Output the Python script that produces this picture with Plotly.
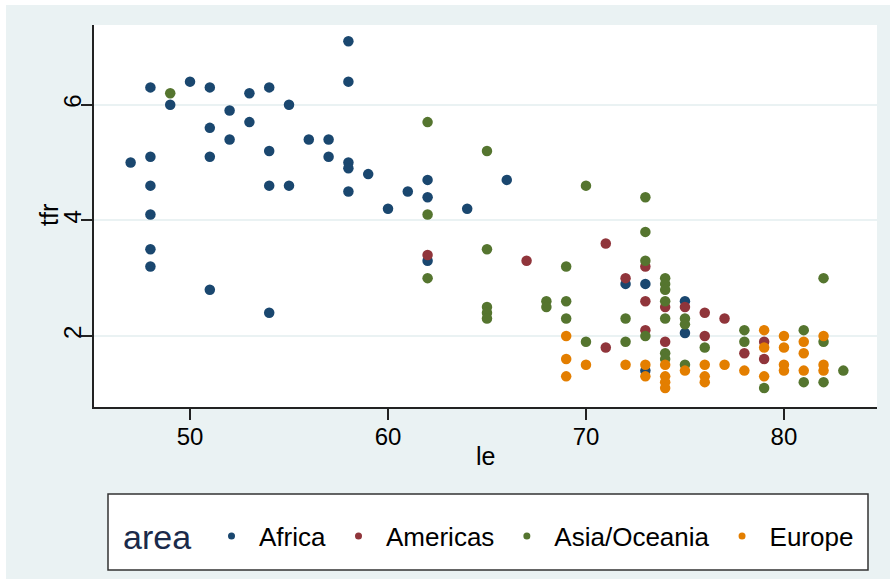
import plotly.graph_objects as go

# life expectancy (le) and total fertility rate (tfr) by area
africa_le = [47, 48, 48, 48, 48, 48, 48, 49, 50, 51, 51, 51, 51, 52, 52, 53, 53, 54, 54, 54, 54,
             55, 55, 56, 57, 57, 58, 58, 58, 58, 58, 59, 60, 61, 62, 62, 62, 64, 66, 72, 73, 73, 75, 75]
africa_tfr = [5.0, 6.3, 5.1, 4.6, 4.1, 3.5, 3.2, 6.0, 6.4, 6.3, 5.6, 5.1, 2.8, 5.9, 5.4, 6.2, 5.7, 6.3, 5.2, 4.6, 2.4,
              6.0, 4.6, 5.4, 5.4, 5.1, 7.1, 6.4, 5.0, 4.9, 4.5, 4.8, 4.2, 4.5, 4.7, 4.4, 3.3, 4.2, 4.7, 2.9, 2.9, 1.4, 2.6, 2.05]

americas_le = [62, 67, 71, 71, 72, 73, 73, 73, 74, 74, 75, 76, 76, 77, 78, 79, 79]
americas_tfr = [3.4, 3.3, 3.6, 1.8, 3.0, 3.2, 2.6, 2.1, 2.5, 1.9, 2.5, 2.4, 2.0, 2.3, 1.7, 1.9, 1.6]

asia_le = [49, 62, 62, 62, 65, 65, 65, 65, 65, 68, 68, 69, 69, 69, 70, 70, 72, 72, 73, 73, 73, 73,
           74, 74, 74, 74, 74, 74, 74, 75, 75, 75, 76, 78, 78, 79, 81, 81, 82, 82, 82, 83]
asia_tfr = [6.2, 5.7, 4.1, 3.0, 5.2, 3.5, 2.5, 2.4, 2.3, 2.6, 2.5, 3.2, 2.6, 2.3, 4.6, 1.9, 2.3, 1.9, 4.4, 3.8, 3.3, 2.0,
            3.0, 2.9, 2.8, 2.6, 2.3, 1.7, 1.6, 2.3, 2.2, 1.5, 1.8, 2.1, 1.9, 1.1, 2.1, 1.2, 3.0, 1.9, 1.2, 1.4]

europe_le = [69, 69, 69, 70, 72, 73, 73, 74, 74, 74, 74, 75, 76, 76, 76, 77, 78, 79, 79, 79,
             80, 80, 80, 80, 81, 81, 81, 82, 82, 82]
europe_tfr = [2.0, 1.6, 1.3, 1.5, 1.5, 1.5, 1.3, 1.5, 1.3, 1.2, 1.1, 1.4, 1.5, 1.3, 1.2, 1.5, 1.4, 2.1, 1.8, 1.3,
              2.0, 1.8, 1.5, 1.4, 1.9, 1.7, 1.4, 2.0, 1.5, 1.4]

areas = ["Africa", "Americas", "Asia/Oceania", "Europe"]
colors = ["#1a476f", "#90353b", "#55752f", "#e37e00"]
xs = [africa_le, americas_le, asia_le, europe_le]
ys = [africa_tfr, americas_tfr, asia_tfr, europe_tfr]

FONT = "Liberation Sans, Arial, sans-serif"
BG = "#eaf2f3"

fig = go.Figure()

for name, col, x, y in zip(areas, colors, xs, ys):
    fig.add_trace(go.Scatter(x=x, y=y, mode="markers", name=name, showlegend=False,
                             marker=dict(color=col, size=10.5, line=dict(width=0))))

# small legend dots
for name, col in zip(areas, colors):
    fig.add_trace(go.Scatter(x=[None], y=[None], mode="markers", name=name,
                             marker=dict(color=col, size=7)))

# plot area in pixels: left 94, right 877, top 25, bottom 407
W, H = 896, 584
L, R, T, B = 94, 877, 25, 407
pw, ph = R - L, B - T


def px(x):
    return (x - L) / pw


def py(y):
    return (B - y) / ph


fig.update_layout(
    width=W, height=H,
    margin=dict(l=L, r=W - R, t=T, b=H - B, autoexpand=False),
    paper_bgcolor="white",
    plot_bgcolor="white",
    font=dict(family=FONT, size=24, color="black"),
    shapes=[
        # outer light background
        dict(type="rect", xref="paper", yref="paper", layer="below",
             x0=px(6), x1=px(890), y0=py(5), y1=py(579),
             fillcolor=BG, line=dict(width=0)),
        # white plot region
        dict(type="rect", xref="paper", yref="paper", layer="below",
             x0=0, x1=1, y0=0, y1=1,
             fillcolor="white", line=dict(width=0)),
        # legend box
        dict(type="rect", xref="paper", yref="paper", layer="below",
             x0=px(108), x1=px(868), y0=py(494), y1=py(570),
             fillcolor="white", line=dict(color="#333333", width=1.5)),
    ],
    annotations=[
        dict(text="area", xref="paper", yref="paper", x=px(121), y=py(537),
             xanchor="left", yanchor="middle", showarrow=False,
             font=dict(size=34, color="#1a2a4a")),
        dict(text="le", xref="paper", yref="paper", x=px(485), y=py(456),
             xanchor="center", yanchor="middle", showarrow=False,
             font=dict(size=25)),
        dict(text="tfr", xref="paper", yref="paper", x=px(49), y=py(215),
             xanchor="center", yanchor="middle", showarrow=False, textangle=-90,
             font=dict(size=25)),
    ],
    legend=dict(
        orientation="h",
        x=px(204), y=py(536), xanchor="left", yanchor="middle",
        bgcolor="rgba(0,0,0,0)", borderwidth=0,
        font=dict(size=26),
        itemwidth=45,
        entrywidth=0,
    ),
)

fig.update_xaxes(
    range=[45.15, 84.7],
    tickvals=[50, 60, 70, 80],
    ticks="outside", ticklen=11, tickwidth=1.5, tickcolor="#222",
    showline=True, linecolor="#222", linewidth=1.5,
    showgrid=False, zeroline=False,
    tickfont=dict(size=24),
    ticklabelstandoff=-4,
)

fig.update_yaxes(
    range=[0.77, 7.38],
    tickvals=[2, 4, 6],
    ticks="outside", ticklen=11, tickwidth=1.5, tickcolor="#222",
    showline=True, linecolor="#222", linewidth=1.5,
    showgrid=True, gridcolor=BG, gridwidth=1.5, zeroline=False,
    tickangle=-90,
    tickfont=dict(size=24),
    ticklabelstandoff=-9,
)

fig.write_html("out.html", config={"displayModeBar": False},
               post_script="document.body.style.margin='0';")
